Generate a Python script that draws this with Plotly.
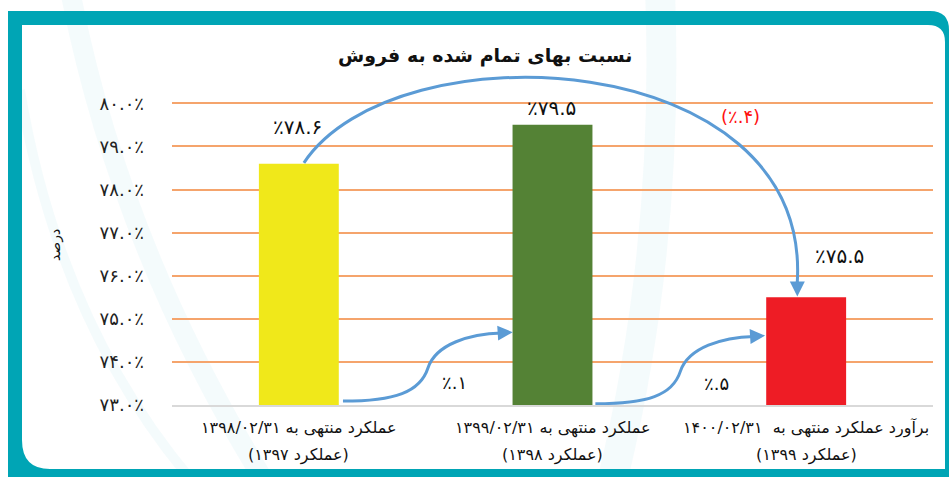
import plotly.graph_objects as go

# ---------------- data ----------------
cat_line1 = ["عملکرد منتهی به ۱۳۹۸/۰۲/۳۱",
             "عملکرد منتهی به ۱۳۹۹/۰۲/۳۱",
             "برآورد عملکرد منتهی به  ۱۴۰۰/۰۲/۳۱"]
cat_line2 = ["(عملکرد ۱۳۹۷)", "(عملکرد ۱۳۹۸)", "(عملکرد ۱۳۹۹)"]
values = [78.6, 79.5, 75.5]
value_labels = ["٪۷۸.۶", "٪۷۹.۵", "٪۷۵.۵"]
change_labels = ["٪.۱", "٪.۵", "(٪.۴)"]
tick_values = [73, 74, 75, 76, 77, 78, 79, 80]
tick_labels = ["۷۳.۰٪", "۷۴.۰٪", "۷۵.۰٪", "۷۶.۰٪", "۷۷.۰٪", "۷۸.۰٪", "۷۹.۰٪", "۸۰.۰٪"]
title_text = "نسبت بهای تمام شده به فروش"
y_title = "درصد"

# ---------------- style ----------------
W, H = 949, 477
ML, MR, MT, MB = 172, 16, 71, 72
FONT = "DejaVu Sans"
bar_colors = ["#F0E81A", "#548235", "#EE1C25"]
arrow_color = "#5B9BD5"
teal = "#00A5B5"
x_pos = list(range(len(values)))


def px(x):
    return (x - ML) / (W - ML - MR)


def py(y):
    return (H - MB - y) / (H - MT - MB)


fig = go.Figure()
fig.add_trace(go.Bar(x=x_pos, y=values, width=0.315,
                     marker=dict(color=bar_colors, line=dict(width=0)),
                     hoverinfo="skip"))

shapes = []
# background faint swooshes
for (x0, y0, x1, y1, c1x, c1y, w) in [(70, -10, 270, 490, 120, 250, 20), (20, 90, 200, 490, 60, 330, 10),
                                     (660, -10, 610, 490, 670, 250, 30)]:
    shapes.append(dict(type="path", xref="paper", yref="paper", layer="below",
                       path=f"M{px(x0)},{py(y0)} Q{px(c1x)},{py(c1y)} {px(x1)},{py(y1)}",
                       line=dict(color="rgba(0,170,190,0.045)", width=w)))

# frame
frameA = [("M", 8, 11), ("L", 930, 11), ("Q", 949, 11, 949, 30), ("L", 949, 477), ("L", 945, 477),
          ("L", 945, 42), ("Q", 945, 25, 928, 25), ("L", 22, 25), ("L", 22, 477), ("L", 8, 477)]
frameB = [("M", 22, 440), ("Q", 22, 469, 50, 469), ("L", 945, 469), ("L", 945, 477), ("L", 22, 477)]


def build(cmds):
    s = ""
    for c in cmds:
        pts = c[1:]
        s += c[0] + " ".join(f"{px(pts[i])},{py(pts[i+1])}" for i in range(0, len(pts), 2)) + " "
    return s + "Z"


for fr in (frameA, frameB):
    shapes.append(dict(type="path", xref="paper", yref="paper", layer="above",
                       path=build(fr), fillcolor=teal, line=dict(width=0)))

# arrows (data coordinates)
big_arc = "M0.02,78.62 C0.38,81.8 2.02,81.35 1.965,75.85"
s1 = "M0.174,73.09 C0.379,73.09 0.478,73.30 0.509,73.86 C0.541,74.42 0.675,74.65 0.80,74.67"
s2 = "M1.169,73.03 C1.374,73.03 1.473,73.22 1.504,73.78 C1.536,74.34 1.670,74.57 1.795,74.59"
for p in (big_arc, s1, s2):
    shapes.append(dict(type="path", xref="x", yref="y", layer="above", path=p,
                       line=dict(color=arrow_color, width=3)))

annotations = []
# arrowheads
for (tx, ty, ax, ay) in [(1.965, 75.52, 1.965, 75.9), (0.843, 74.69, 0.79, 74.67),
                         (1.838, 74.61, 1.785, 74.59)]:
    annotations.append(dict(x=tx, y=ty, ax=ax, ay=ay, xref="x", yref="y", axref="x", ayref="y",
                            text="", showarrow=True, arrowhead=2, arrowsize=1, arrowwidth=3,
                            arrowcolor=arrow_color, standoff=0, startstandoff=0))

# value labels
label_pos = [(-0.005, 79.44), (0.998, 79.88), (2.13, 76.45)]
for (x, y), t in zip(label_pos, value_labels):
    annotations.append(dict(x=x, y=y, xref="x", yref="y", text=t, showarrow=False,
                            xanchor="center", yanchor="middle",
                            font=dict(family=FONT, size=20, color="#111")))
change_pos = [(0.615, 73.53), (1.648, 73.51), (1.743, 79.70)]
change_colors = ["#111", "#111", "#FF1010"]
for (x, y), t, c in zip(change_pos, change_labels, change_colors):
    annotations.append(dict(x=x, y=y, xref="x", yref="y", text=t, showarrow=False,
                            xanchor="center", yanchor="middle",
                            font=dict(family=FONT, size=18, color=c)))

# category labels
for i, (l1, l2) in enumerate(zip(cat_line1, cat_line2)):
    annotations.append(dict(x=x_pos[i], y=py(428), xref="x", yref="paper", text=l1,
                            showarrow=False, xanchor="center", yanchor="middle",
                            font=dict(family=FONT, size=16, color="#111")))
    annotations.append(dict(x=x_pos[i], y=py(455), xref="x", yref="paper", text=l2,
                            showarrow=False, xanchor="center", yanchor="middle",
                            font=dict(family=FONT, size=16, color="#111")))

# title and y title
annotations.append(dict(x=px(485), y=py(55), xref="paper", yref="paper", text="<b>" + title_text + "</b>",
                        showarrow=False, xanchor="center", yanchor="middle",
                        font=dict(family=FONT, size=19, color="#111")))
annotations.append(dict(x=px(55), y=py(245), xref="paper", yref="paper", text=y_title,
                        textangle=-90, showarrow=False, xanchor="center", yanchor="middle",
                        font=dict(family=FONT, size=14, color="#111")))

fig.update_layout(
    width=W, height=H, margin=dict(l=ML, r=MR, t=MT, b=MB),
    paper_bgcolor="white", plot_bgcolor="rgba(0,0,0,0)",
    showlegend=False, shapes=shapes, annotations=annotations,
    xaxis=dict(range=[-0.5, 2.5], showticklabels=False, showgrid=False, zeroline=False,
               showline=True, linecolor="#D9D9D9", linewidth=2, fixedrange=True),
    yaxis=dict(range=[73, 80.75], tickvals=tick_values, ticktext=tick_labels,
               showgrid=True, gridcolor="#F5A46C", gridwidth=2, zeroline=False,
               ticklabelstandoff=27, tickfont=dict(family=FONT, size=18, color="#222"),
               fixedrange=True),
)

fig.write_html("out.html", config={"displayModeBar": False},
               post_script="document.body.style.margin='0';document.body.style.overflow='hidden';")
